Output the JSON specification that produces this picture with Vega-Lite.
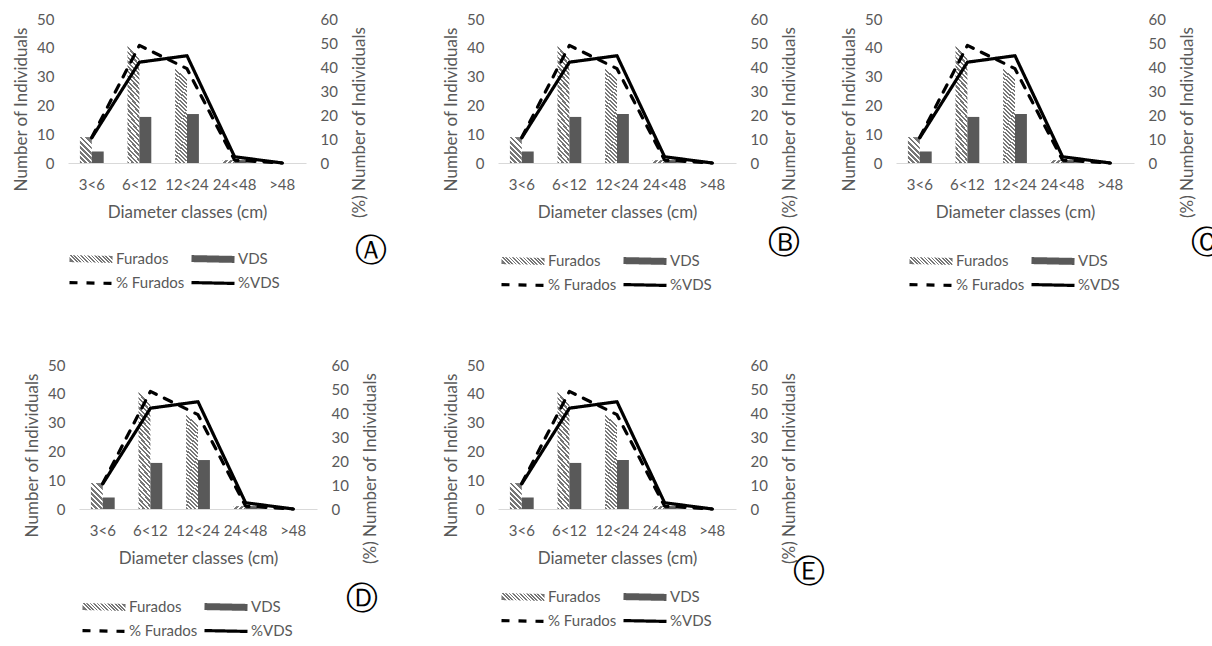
{
"$schema": "https://vega.github.io/schema/vega-lite/v6.json",
"padding": {"left": 11, "top": 12, "right": 0, "bottom": 0},
"background": "#ffffff",
"config": {
  "view": {"stroke": null},
  "font": "Lato",
  "axis": {"labelFont": "Lato", "titleFont": "Lato", "labelColor": "#595959", "titleColor": "#595959", "labelFontSize": 15, "titleFontSize": 17, "titleFontWeight": "normal", "grid": false, "ticks": false},
  "legend": {"labelFont": "Lato", "labelColor": "#595959", "labelFontSize": 15, "direction": "horizontal", "columns": 2, "symbolType": "M-1,-0.02L1,0.02", "symbolSize": 1849, "labelOffset": 0, "columnPadding": 3, "rowPadding": 8, "clipHeight": 16, "titleOrient": "right", "titleFont": "DejaVu Sans", "titleFontSize": 32, "titleColor": "#000000", "titleFontWeight": "normal", "titleAnchor": "start"}
},
"params": [
  {"name": "hatchTall", "value": {"gradient": "linear", "x1": 0, "y1": 1, "x2": 0.11, "y2": 0, "stops": [
    {"offset":0,"color":"#777"},{"offset":0.02,"color":"#777"},{"offset":0.02,"color":"#fff"},{"offset":0.04,"color":"#fff"},
    {"offset":0.04,"color":"#777"},{"offset":0.06,"color":"#777"},{"offset":0.06,"color":"#fff"},{"offset":0.08,"color":"#fff"},
    {"offset":0.08,"color":"#777"},{"offset":0.1,"color":"#777"},{"offset":0.1,"color":"#fff"},{"offset":0.12,"color":"#fff"},
    {"offset":0.12,"color":"#777"},{"offset":0.14,"color":"#777"},{"offset":0.14,"color":"#fff"},{"offset":0.16,"color":"#fff"},
    {"offset":0.16,"color":"#777"},{"offset":0.18,"color":"#777"},{"offset":0.18,"color":"#fff"},{"offset":0.2,"color":"#fff"},
    {"offset":0.2,"color":"#777"},{"offset":0.22,"color":"#777"},{"offset":0.22,"color":"#fff"},{"offset":0.24,"color":"#fff"},
    {"offset":0.24,"color":"#777"},{"offset":0.26,"color":"#777"},{"offset":0.26,"color":"#fff"},{"offset":0.28,"color":"#fff"},
    {"offset":0.28,"color":"#777"},{"offset":0.3,"color":"#777"},{"offset":0.3,"color":"#fff"},{"offset":0.32,"color":"#fff"},
    {"offset":0.32,"color":"#777"},{"offset":0.34,"color":"#777"},{"offset":0.34,"color":"#fff"},{"offset":0.36,"color":"#fff"},
    {"offset":0.36,"color":"#777"},{"offset":0.38,"color":"#777"},{"offset":0.38,"color":"#fff"},{"offset":0.4,"color":"#fff"},
    {"offset":0.4,"color":"#777"},{"offset":0.42,"color":"#777"},{"offset":0.42,"color":"#fff"},{"offset":0.44,"color":"#fff"},
    {"offset":0.44,"color":"#777"},{"offset":0.46,"color":"#777"},{"offset":0.46,"color":"#fff"},{"offset":0.48,"color":"#fff"},
    {"offset":0.48,"color":"#777"},{"offset":0.5,"color":"#777"},{"offset":0.5,"color":"#fff"},{"offset":0.52,"color":"#fff"},
    {"offset":0.52,"color":"#777"},{"offset":0.54,"color":"#777"},{"offset":0.54,"color":"#fff"},{"offset":0.56,"color":"#fff"},
    {"offset":0.56,"color":"#777"},{"offset":0.58,"color":"#777"},{"offset":0.58,"color":"#fff"},{"offset":0.6,"color":"#fff"},
    {"offset":0.6,"color":"#777"},{"offset":0.62,"color":"#777"},{"offset":0.62,"color":"#fff"},{"offset":0.64,"color":"#fff"},
    {"offset":0.64,"color":"#777"},{"offset":0.66,"color":"#777"},{"offset":0.66,"color":"#fff"},{"offset":0.68,"color":"#fff"},
    {"offset":0.68,"color":"#777"},{"offset":0.7,"color":"#777"},{"offset":0.7,"color":"#fff"},{"offset":0.72,"color":"#fff"},
    {"offset":0.72,"color":"#777"},{"offset":0.74,"color":"#777"},{"offset":0.74,"color":"#fff"},{"offset":0.76,"color":"#fff"},
    {"offset":0.76,"color":"#777"},{"offset":0.78,"color":"#777"},{"offset":0.78,"color":"#fff"},{"offset":0.8,"color":"#fff"},
    {"offset":0.8,"color":"#777"},{"offset":0.82,"color":"#777"},{"offset":0.82,"color":"#fff"},{"offset":0.84,"color":"#fff"},
    {"offset":0.84,"color":"#777"},{"offset":0.86,"color":"#777"},{"offset":0.86,"color":"#fff"},{"offset":0.88,"color":"#fff"},
    {"offset":0.88,"color":"#777"},{"offset":0.9,"color":"#777"},{"offset":0.9,"color":"#fff"},{"offset":0.92,"color":"#fff"},
    {"offset":0.92,"color":"#777"},{"offset":0.94,"color":"#777"},{"offset":0.94,"color":"#fff"},{"offset":0.96,"color":"#fff"},
    {"offset":0.96,"color":"#777"},{"offset":0.98,"color":"#777"},{"offset":0.98,"color":"#fff"},{"offset":1,"color":"#fff"}
  ]}},
  {"name": "hatchShort", "value": {"gradient": "linear", "x1": 0, "y1": 1, "x2": 0.46, "y2": 0, "stops": [
    {"offset":0,"color":"#777"},{"offset":0.08,"color":"#777"},{"offset":0.08,"color":"#fff"},{"offset":0.16,"color":"#fff"},
    {"offset":0.16,"color":"#777"},{"offset":0.24,"color":"#777"},{"offset":0.24,"color":"#fff"},{"offset":0.32,"color":"#fff"},
    {"offset":0.32,"color":"#777"},{"offset":0.4,"color":"#777"},{"offset":0.4,"color":"#fff"},{"offset":0.48,"color":"#fff"},
    {"offset":0.48,"color":"#777"},{"offset":0.56,"color":"#777"},{"offset":0.56,"color":"#fff"},{"offset":0.64,"color":"#fff"},
    {"offset":0.64,"color":"#777"},{"offset":0.72,"color":"#777"},{"offset":0.72,"color":"#fff"},{"offset":0.8,"color":"#fff"},
    {"offset":0.8,"color":"#777"},{"offset":0.88,"color":"#777"},{"offset":0.88,"color":"#fff"},{"offset":0.96,"color":"#fff"},
    {"offset":0.96,"color":"#777"},{"offset":1,"color":"#777"}
  ]}},
  {"name": "hatchLegend", "value": {"gradient": "linear", "x1": 0, "y1": 0.02, "x2": 1, "y2": 0, "stops": [
    {"offset":0,"color":"#777"},{"offset":0.04,"color":"#777"},{"offset":0.04,"color":"#fff"},{"offset":0.08,"color":"#fff"},
    {"offset":0.08,"color":"#777"},{"offset":0.12,"color":"#777"},{"offset":0.12,"color":"#fff"},{"offset":0.16,"color":"#fff"},
    {"offset":0.16,"color":"#777"},{"offset":0.2,"color":"#777"},{"offset":0.2,"color":"#fff"},{"offset":0.24,"color":"#fff"},
    {"offset":0.24,"color":"#777"},{"offset":0.28,"color":"#777"},{"offset":0.28,"color":"#fff"},{"offset":0.32,"color":"#fff"},
    {"offset":0.32,"color":"#777"},{"offset":0.36,"color":"#777"},{"offset":0.36,"color":"#fff"},{"offset":0.4,"color":"#fff"},
    {"offset":0.4,"color":"#777"},{"offset":0.44,"color":"#777"},{"offset":0.44,"color":"#fff"},{"offset":0.48,"color":"#fff"},
    {"offset":0.48,"color":"#777"},{"offset":0.52,"color":"#777"},{"offset":0.52,"color":"#fff"},{"offset":0.56,"color":"#fff"},
    {"offset":0.56,"color":"#777"},{"offset":0.6,"color":"#777"},{"offset":0.6,"color":"#fff"},{"offset":0.64,"color":"#fff"},
    {"offset":0.64,"color":"#777"},{"offset":0.68,"color":"#777"},{"offset":0.68,"color":"#fff"},{"offset":0.72,"color":"#fff"},
    {"offset":0.72,"color":"#777"},{"offset":0.76,"color":"#777"},{"offset":0.76,"color":"#fff"},{"offset":0.8,"color":"#fff"},
    {"offset":0.8,"color":"#777"},{"offset":0.84,"color":"#777"},{"offset":0.84,"color":"#fff"},{"offset":0.88,"color":"#fff"},
    {"offset":0.88,"color":"#777"},{"offset":0.92,"color":"#777"},{"offset":0.92,"color":"#fff"},{"offset":0.96,"color":"#fff"},
    {"offset":0.96,"color":"#777"},{"offset":1,"color":"#777"}
  ]}}
],
"datasets": {
  "bars": [
    {"cls": "3<6", "series": "Furados", "count": 9},
    {"cls": "3<6", "series": "VDS", "count": 4},
    {"cls": "6<12", "series": "Furados", "count": 41},
    {"cls": "6<12", "series": "VDS", "count": 16},
    {"cls": "12<24", "series": "Furados", "count": 33},
    {"cls": "12<24", "series": "VDS", "count": 17},
    {"cls": "24<48", "series": "Furados", "count": 1},
    {"cls": "24<48", "series": "VDS", "count": 1},
    {"cls": ">48", "series": "Furados", "count": 0},
    {"cls": ">48", "series": "VDS", "count": 0}
  ],
  "pct": [
    {"cls": "3<6", "series": "% Furados", "pct": 10.7},
    {"cls": "6<12", "series": "% Furados", "pct": 49},
    {"cls": "12<24", "series": "% Furados", "pct": 39.3},
    {"cls": "24<48", "series": "% Furados", "pct": 1.2},
    {"cls": ">48", "series": "% Furados", "pct": 0},
    {"cls": "3<6", "series": "%VDS", "pct": 10.5},
    {"cls": "6<12", "series": "%VDS", "pct": 42},
    {"cls": "12<24", "series": "%VDS", "pct": 44.7},
    {"cls": "24<48", "series": "%VDS", "pct": 2.6},
    {"cls": ">48", "series": "%VDS", "pct": 0}
  ]
},
"bounds": "flush",
"spacing": 346,
"resolve": {"scale": {"strokeDash": "independent", "stroke": "independent", "strokeWidth": "independent"}, "legend": {"strokeDash": "independent", "stroke": "independent", "strokeWidth": "independent"}},
"vconcat": [
 {"bounds": "flush", "spacing": 192, "resolve": {"scale": {"strokeDash": "independent", "stroke": "independent", "strokeWidth": "independent"}, "legend": {"strokeDash": "independent", "stroke": "independent", "strokeWidth": "independent"}}, "hconcat": [
  {"width": 238, "height": 144, "resolve": {"scale": {"y": "independent"}}, "layer": [
   {"data": {"name": "bars"},
    "encoding": {
     "x": {"field": "cls", "type": "nominal", "scale": {"domain": ["3<6","6<12","12<24","24<48",">48"], "paddingInner": 0.5, "paddingOuter": 0.25}, "axis": {"title": "Diameter classes (cm)", "labelAngle": 0, "domainColor": "#d9d9d9", "labelPadding": 14, "titleY": 49, "titleBaseline": "middle"}},
     "xOffset": {"field": "series", "type": "nominal", "scale": {"domain": ["Furados","VDS"]}},
     "y": {"field": "count", "type": "quantitative", "scale": {"domain": [0,50]}, "axis": {"title": "Number of Individuals", "values": [0,10,20,30,40,50], "domain": false, "labelPadding": 14, "titleX": -47, "titleY": 90, "titleBaseline": "middle"}}
    },
    "layer": [
     {"transform": [{"filter": "datum.series === 'Furados' && datum.count >= 20"}], "mark": {"type": "bar", "fill": {"expr": "hatchTall"}}},
     {"transform": [{"filter": "datum.series === 'Furados' && datum.count < 20"}], "mark": {"type": "bar", "fill": {"expr": "hatchShort"}}},
     {"transform": [{"filter": "datum.series === 'VDS'"}], "mark": {"type": "bar", "fill": "#595959"}}
    ]},
   {"data": {"name": "pct"},
    "mark": {"type": "line", "strokeCap": "round", "strokeJoin": "round"},
    "encoding": {
     "x": {"field": "cls", "type": "nominal", "scale": {"domain": ["3<6","6<12","12<24","24<48",">48"]}},
     "y": {"field": "pct", "type": "quantitative", "scale": {"domain": [0,60]}, "axis": {"orient": "right", "title": "(%) Number of Individuals", "values": [0,10,20,30,40,50,60], "domain": false, "labelPadding": 14, "titleAngle": 270, "titleX": 53, "titleY": 103, "titleBaseline": "middle"}},
     "stroke": {"field": "series", "type": "nominal", "scale": {"domain": ["Furados","VDS","% Furados","%VDS"], "range": [{"expr": "hatchLegend"}, "#595959", "#000000", "#000000"]}},
     "strokeWidth": {"field": "series", "type": "nominal", "scale": {"type": "ordinal", "domain": ["Furados","VDS","% Furados","%VDS"], "range": [7, 7, 3.2, 3.2]}},
     "strokeDash": {"field": "series", "type": "nominal", "scale": {"domain": ["Furados","VDS","% Furados","%VDS"], "range": [[1,0],[1,0],[8,9],[1,0]]},
      "legend": {"orient": "none", "legendX": -2, "legendY": 232, "title": "Ⓐ", "titlePadding": 75, "titleBaseline": "middle"}}
    }}
  ]},
  {"bounds": "flush", "spacing": 160, "resolve": {"scale": {"strokeDash": "independent", "stroke": "independent", "strokeWidth": "independent"}, "legend": {"strokeDash": "independent", "stroke": "independent", "strokeWidth": "independent"}}, "hconcat": [
   {"width": 238, "height": 144, "resolve": {"scale": {"y": "independent"}}, "layer": [
    {"data": {"name": "bars"},
     "encoding": {
      "x": {"field": "cls", "type": "nominal", "scale": {"domain": ["3<6","6<12","12<24","24<48",">48"], "paddingInner": 0.5, "paddingOuter": 0.25}, "axis": {"title": "Diameter classes (cm)", "labelAngle": 0, "domainColor": "#d9d9d9", "labelPadding": 14, "titleY": 49, "titleBaseline": "middle"}},
      "xOffset": {"field": "series", "type": "nominal", "scale": {"domain": ["Furados","VDS"]}},
      "y": {"field": "count", "type": "quantitative", "scale": {"domain": [0,50]}, "axis": {"title": "Number of Individuals", "values": [0,10,20,30,40,50], "domain": false, "labelPadding": 14, "titleX": -47, "titleY": 90, "titleBaseline": "middle"}}
     },
     "layer": [
      {"transform": [{"filter": "datum.series === 'Furados' && datum.count >= 20"}], "mark": {"type": "bar", "fill": {"expr": "hatchTall"}}},
      {"transform": [{"filter": "datum.series === 'Furados' && datum.count < 20"}], "mark": {"type": "bar", "fill": {"expr": "hatchShort"}}},
      {"transform": [{"filter": "datum.series === 'VDS'"}], "mark": {"type": "bar", "fill": "#595959"}}
     ]},
    {"data": {"name": "pct"},
     "mark": {"type": "line", "strokeCap": "round", "strokeJoin": "round"},
     "encoding": {
      "x": {"field": "cls", "type": "nominal", "scale": {"domain": ["3<6","6<12","12<24","24<48",">48"]}},
      "y": {"field": "pct", "type": "quantitative", "scale": {"domain": [0,60]}, "axis": {"orient": "right", "title": "(%) Number of Individuals", "values": [0,10,20,30,40,50,60], "domain": false, "labelPadding": 14, "titleAngle": 270, "titleX": 53, "titleY": 103, "titleBaseline": "middle"}},
      "stroke": {"field": "series", "type": "nominal", "scale": {"domain": ["Furados","VDS","% Furados","%VDS"], "range": [{"expr": "hatchLegend"}, "#595959", "#000000", "#000000"]}},
      "strokeWidth": {"field": "series", "type": "nominal", "scale": {"type": "ordinal", "domain": ["Furados","VDS","% Furados","%VDS"], "range": [7, 7, 3.2, 3.2]}},
      "strokeDash": {"field": "series", "type": "nominal", "scale": {"domain": ["Furados","VDS","% Furados","%VDS"], "range": [[1,0],[1,0],[8,9],[1,0]]},
       "legend": {"orient": "none", "legendX": 0, "legendY": 234, "title": "Ⓑ", "titlePadding": 56, "titleBaseline": "alphabetic"}}
     }}
   ]},
   {"width": 238, "height": 144, "resolve": {"scale": {"y": "independent"}}, "layer": [
    {"data": {"name": "bars"},
     "encoding": {
      "x": {"field": "cls", "type": "nominal", "scale": {"domain": ["3<6","6<12","12<24","24<48",">48"], "paddingInner": 0.5, "paddingOuter": 0.25}, "axis": {"title": "Diameter classes (cm)", "labelAngle": 0, "domainColor": "#d9d9d9", "labelPadding": 14, "titleY": 49, "titleBaseline": "middle"}},
      "xOffset": {"field": "series", "type": "nominal", "scale": {"domain": ["Furados","VDS"]}},
      "y": {"field": "count", "type": "quantitative", "scale": {"domain": [0,50]}, "axis": {"title": "Number of Individuals", "values": [0,10,20,30,40,50], "domain": false, "labelPadding": 14, "titleX": -47, "titleY": 90, "titleBaseline": "middle"}}
     },
     "layer": [
      {"transform": [{"filter": "datum.series === 'Furados' && datum.count >= 20"}], "mark": {"type": "bar", "fill": {"expr": "hatchTall"}}},
      {"transform": [{"filter": "datum.series === 'Furados' && datum.count < 20"}], "mark": {"type": "bar", "fill": {"expr": "hatchShort"}}},
      {"transform": [{"filter": "datum.series === 'VDS'"}], "mark": {"type": "bar", "fill": "#595959"}}
     ]},
    {"data": {"name": "pct"},
     "mark": {"type": "line", "strokeCap": "round", "strokeJoin": "round"},
     "encoding": {
      "x": {"field": "cls", "type": "nominal", "scale": {"domain": ["3<6","6<12","12<24","24<48",">48"]}},
      "y": {"field": "pct", "type": "quantitative", "scale": {"domain": [0,60]}, "axis": {"orient": "right", "title": "(%) Number of Individuals", "values": [0,10,20,30,40,50,60], "domain": false, "labelPadding": 14, "titleAngle": 270, "titleX": 53, "titleY": 103, "titleBaseline": "middle"}},
      "stroke": {"field": "series", "type": "nominal", "scale": {"domain": ["Furados","VDS","% Furados","%VDS"], "range": [{"expr": "hatchLegend"}, "#595959", "#000000", "#000000"]}},
      "strokeWidth": {"field": "series", "type": "nominal", "scale": {"type": "ordinal", "domain": ["Furados","VDS","% Furados","%VDS"], "range": [7, 7, 3.2, 3.2]}},
      "strokeDash": {"field": "series", "type": "nominal", "scale": {"domain": ["Furados","VDS","% Furados","%VDS"], "range": [[1,0],[1,0],[8,9],[1,0]]},
       "legend": {"orient": "none", "legendX": 10, "legendY": 234, "title": "Ⓒ", "titlePadding": 71, "titleBaseline": "alphabetic"}}
     }}
   ]}
  ]}
 ]},
 {"bounds": "flush", "spacing": 10, "resolve": {"scale": {"strokeDash": "independent", "stroke": "independent", "strokeWidth": "independent"}, "legend": {"strokeDash": "independent", "stroke": "independent", "strokeWidth": "independent"}}, "hconcat": [
  {"width": 1, "height": 1, "data": {"values": []}, "mark": "point"},
  {"bounds": "flush", "spacing": 181, "resolve": {"scale": {"strokeDash": "independent", "stroke": "independent", "strokeWidth": "independent"}, "legend": {"strokeDash": "independent", "stroke": "independent", "strokeWidth": "independent"}}, "hconcat": [
   {"width": 238, "height": 144, "resolve": {"scale": {"y": "independent"}}, "layer": [
    {"data": {"name": "bars"},
     "encoding": {
      "x": {"field": "cls", "type": "nominal", "scale": {"domain": ["3<6","6<12","12<24","24<48",">48"], "paddingInner": 0.5, "paddingOuter": 0.25}, "axis": {"title": "Diameter classes (cm)", "labelAngle": 0, "domainColor": "#d9d9d9", "labelPadding": 14, "titleY": 49, "titleBaseline": "middle"}},
      "xOffset": {"field": "series", "type": "nominal", "scale": {"domain": ["Furados","VDS"]}},
      "y": {"field": "count", "type": "quantitative", "scale": {"domain": [0,50]}, "axis": {"title": "Number of Individuals", "values": [0,10,20,30,40,50], "domain": false, "labelPadding": 14, "titleX": -47, "titleY": 90, "titleBaseline": "middle"}}
     },
     "layer": [
      {"transform": [{"filter": "datum.series === 'Furados' && datum.count >= 20"}], "mark": {"type": "bar", "fill": {"expr": "hatchTall"}}},
      {"transform": [{"filter": "datum.series === 'Furados' && datum.count < 20"}], "mark": {"type": "bar", "fill": {"expr": "hatchShort"}}},
      {"transform": [{"filter": "datum.series === 'VDS'"}], "mark": {"type": "bar", "fill": "#595959"}}
     ]},
    {"data": {"name": "pct"},
     "mark": {"type": "line", "strokeCap": "round", "strokeJoin": "round"},
     "encoding": {
      "x": {"field": "cls", "type": "nominal", "scale": {"domain": ["3<6","6<12","12<24","24<48",">48"]}},
      "y": {"field": "pct", "type": "quantitative", "scale": {"domain": [0,60]}, "axis": {"orient": "right", "title": "(%) Number of Individuals", "values": [0,10,20,30,40,50,60], "domain": false, "labelPadding": 14, "titleAngle": 270, "titleX": 53, "titleY": 103, "titleBaseline": "middle"}},
      "stroke": {"field": "series", "type": "nominal", "scale": {"domain": ["Furados","VDS","% Furados","%VDS"], "range": [{"expr": "hatchLegend"}, "#595959", "#000000", "#000000"]}},
      "strokeWidth": {"field": "series", "type": "nominal", "scale": {"type": "ordinal", "domain": ["Furados","VDS","% Furados","%VDS"], "range": [7, 7, 3.2, 3.2]}},
      "strokeDash": {"field": "series", "type": "nominal", "scale": {"domain": ["Furados","VDS","% Furados","%VDS"], "range": [[1,0],[1,0],[8,9],[1,0]]},
       "legend": {"orient": "none", "legendX": 0, "legendY": 234, "title": "Ⓓ", "titlePadding": 53, "titleBaseline": "middle"}}
     }}
   ]},
   {"width": 238, "height": 144, "resolve": {"scale": {"y": "independent"}}, "layer": [
    {"data": {"name": "bars"},
     "encoding": {
      "x": {"field": "cls", "type": "nominal", "scale": {"domain": ["3<6","6<12","12<24","24<48",">48"], "paddingInner": 0.5, "paddingOuter": 0.25}, "axis": {"title": "Diameter classes (cm)", "labelAngle": 0, "domainColor": "#d9d9d9", "labelPadding": 14, "titleY": 49, "titleBaseline": "middle"}},
      "xOffset": {"field": "series", "type": "nominal", "scale": {"domain": ["Furados","VDS"]}},
      "y": {"field": "count", "type": "quantitative", "scale": {"domain": [0,50]}, "axis": {"title": "Number of Individuals", "values": [0,10,20,30,40,50], "domain": false, "labelPadding": 14, "titleX": -47, "titleY": 90, "titleBaseline": "middle"}}
     },
     "layer": [
      {"transform": [{"filter": "datum.series === 'Furados' && datum.count >= 20"}], "mark": {"type": "bar", "fill": {"expr": "hatchTall"}}},
      {"transform": [{"filter": "datum.series === 'Furados' && datum.count < 20"}], "mark": {"type": "bar", "fill": {"expr": "hatchShort"}}},
      {"transform": [{"filter": "datum.series === 'VDS'"}], "mark": {"type": "bar", "fill": "#595959"}}
     ]},
    {"data": {"name": "pct"},
     "mark": {"type": "line", "strokeCap": "round", "strokeJoin": "round"},
     "encoding": {
      "x": {"field": "cls", "type": "nominal", "scale": {"domain": ["3<6","6<12","12<24","24<48",">48"]}},
      "y": {"field": "pct", "type": "quantitative", "scale": {"domain": [0,60]}, "axis": {"orient": "right", "title": "(%) Number of Individuals", "values": [0,10,20,30,40,50,60], "domain": false, "labelPadding": 14, "titleAngle": 270, "titleX": 53, "titleY": 103, "titleBaseline": "middle"}},
      "stroke": {"field": "series", "type": "nominal", "scale": {"domain": ["Furados","VDS","% Furados","%VDS"], "range": [{"expr": "hatchLegend"}, "#595959", "#000000", "#000000"]}},
      "strokeWidth": {"field": "series", "type": "nominal", "scale": {"type": "ordinal", "domain": ["Furados","VDS","% Furados","%VDS"], "range": [7, 7, 3.2, 3.2]}},
      "strokeDash": {"field": "series", "type": "nominal", "scale": {"domain": ["Furados","VDS","% Furados","%VDS"], "range": [[1,0],[1,0],[8,9],[1,0]]},
       "legend": {"orient": "none", "legendX": 0, "legendY": 224, "title": "Ⓔ", "titlePadding": 81, "titleBaseline": "bottom"}}
     }}
   ]}
  ]}
 ]}
]
}
